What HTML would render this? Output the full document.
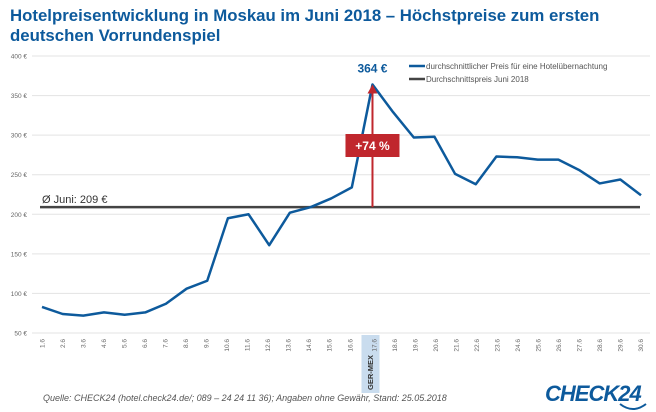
<!DOCTYPE html>
<html><head><meta charset="utf-8"><style>
body{margin:0;background:#fff;}
svg{display:block;font-family:"Liberation Sans",sans-serif;}
</style></head><body>
<svg id="chart" width="656" height="412">
<text x="10" y="21" font-size="16.8" font-weight="bold" fill="#0d5a9c">Hotelpreisentwicklung in Moskau im Juni 2018 – Höchstpreise zum ersten</text>
<text x="10" y="41" font-size="16.8" font-weight="bold" fill="#0d5a9c">deutschen Vorrundenspiel</text>
<g id="grid"></g>
<g id="xlabels"></g>
<g id="marks"></g>
<g>
<line x1="409" y1="66" x2="425" y2="66" stroke="#0d5a9c" stroke-width="2.5"/>
<text x="426" y="69" font-size="8" fill="#555">durchschnittlicher Preis für eine Hotelübernachtung</text>
<line x1="409" y1="79" x2="425" y2="79" stroke="#444" stroke-width="2.5"/>
<text x="426" y="82" font-size="8" fill="#555">Durchschnittspreis Juni 2018</text>
</g>
<text x="43" y="401" font-size="9" font-style="italic" fill="#555">Quelle: CHECK24 (hotel.check24.de/; 089 – 24 24 11 36); Angaben ohne Gewähr, Stand: 25.05.2018</text>
<g>
<text x="545" y="401" font-size="22" font-weight="bold" font-style="italic" fill="#0d5a9c" letter-spacing="-1">CHECK24</text>
<path d="M620 404 Q633 414 646 404" fill="none" stroke="#0d5a9c" stroke-width="2"/>
</g>
</svg>
<script>
const days=["1.6","2.6","3.6","4.6","5.6","6.6","7.6","8.6","9.6","10.6","11.6","12.6","13.6","14.6","15.6","16.6","17.6","18.6","19.6","20.6","21.6","22.6","23.6","24.6","25.6","26.6","27.6","28.6","29.6","30.6"];
const prices=[83,74,72,76,73,76,87,106,116,195,200,161,202,209,220,234,364,329,297,298,251,238,273,272,269,269,256,239,244,224];
const average=[209];
const yTicks=[50,100,150,200,250,300,350,400];
const peakLabel="364 €";
const increaseLabel="+74 %";
const matchLabel="GER-MEX";
const matchIndex=16;
const NS="http://www.w3.org/2000/svg";
const X0=42,X1=641,Y0=333,Y1=56;
function xs(i){return X0+(X1-X0)*i/(days.length-1);}
function xl_(i){return 42+595*i/(days.length-1);}
function ys(v){return Y0-(v-50)*(Y0-Y1)/350;}
function mk(t,a,p,txt){const e=document.createElementNS(NS,t);for(const k in a)e.setAttribute(k,a[k]);if(txt!==undefined)e.textContent=txt;p.appendChild(e);return e;}
const grid=document.getElementById('grid'),xl=document.getElementById('xlabels'),marks=document.getElementById('marks');
yTicks.forEach(v=>{
 const l=mk('line',{x1:32,x2:650,y1:ys(v),y2:ys(v),stroke:'#e3e3e3','stroke-width':1},grid);
 
 
 const t=mk('text',{x:27,y:ys(v)+2.5,'font-size':6.5,fill:'#666','text-anchor':'end'},grid,v+' €');
 
 
});
const hb=mk('rect',{x:xs(matchIndex)-11,y:335,width:18,height:58,fill:'#c9dcee'},xl);


const mt=mk('text',{transform:`translate(${xs(matchIndex)+0.5},390) rotate(-90)`,'font-size':7.5,'font-weight':'bold',fill:'#333'},xl,matchLabel);


days.forEach((d,i)=>{
 const off=i>=matchIndex?6:2.5;
 const t=mk('text',{transform:`translate(${xl_(i)+off},339) rotate(-90)`,'font-size':6.5,fill:'#666','text-anchor':'end'},xl,d);
 
 
});
const al=mk('line',{x1:40,x2:640,y1:ys(average[0]),y2:ys(average[0]),stroke:'#444','stroke-width':2.5},marks);


const at=mk('text',{x:42,y:ys(average[0])-4,'font-size':11,fill:'#333'},marks,'Ø Juni: '+average[0]+' €');


const pl=mk('polyline',{points:prices.map((v,i)=>xs(i)+','+ys(v)).join(' '),fill:'none',stroke:'#0d5a9c','stroke-width':2.5,'stroke-linejoin':'round'},marks);


const px=xs(matchIndex);
const ar=mk('line',{x1:px,x2:px,y1:ys(average[0]),y2:ys(prices[matchIndex])+8,stroke:'#c0272d','stroke-width':2},marks);


const ah=mk('polygon',{points:`${px},${ys(prices[matchIndex])} ${px-5},${ys(prices[matchIndex])+9} ${px+5},${ys(prices[matchIndex])+9}`,fill:'#c0272d'},marks);


const ib=mk('rect',{x:px-27,y:134,width:54,height:23,fill:'#c0272d'},marks);


const it=mk('text',{x:px,y:150,'font-size':12,'font-weight':'bold',fill:'#fff','text-anchor':'middle'},marks,increaseLabel);


const pk=mk('text',{x:px,y:ys(prices[matchIndex])-12,'font-size':12,'font-weight':'bold',fill:'#0d5a9c','text-anchor':'middle'},marks,peakLabel);


</script>
</body></html>
